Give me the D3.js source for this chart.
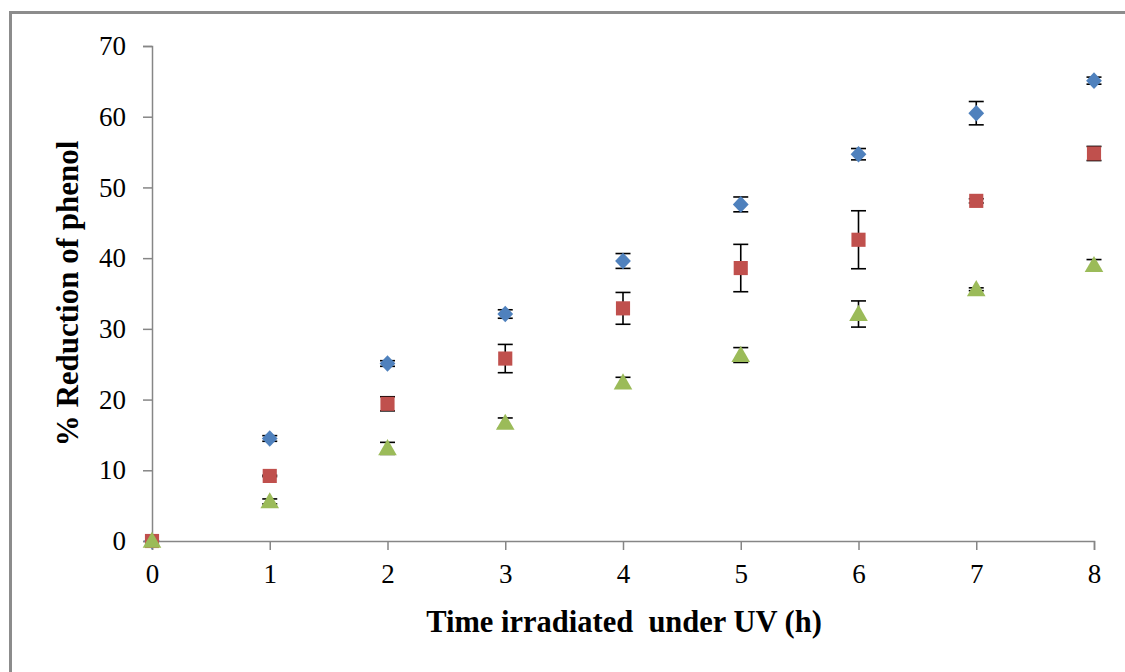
<!DOCTYPE html>
<html>
<head>
<meta charset="utf-8">
<script src="https://cdn.jsdelivr.net/npm/d3@7"></script>
<style>
  html, body { margin: 0; padding: 0; background: #fff; }
  svg { display: block; }
  text { font-family: "Liberation Serif", "Times New Roman", serif; fill: #000; }
</style>
</head>
<body>
<svg id="chart" width="1125" height="672"></svg>
<script>
// Irradiation time (h)
const hours = [0, 1, 2, 3, 4, 5, 6, 7, 8];

// % reduction of phenol, three series, with standard deviations
const seriesA = [0, 14.5, 25.1, 32.1, 39.6, 47.6, 54.7, 60.5, 65.1];
const errorsA = [0, 0.4, 0.4, 0.6, 1.05, 1.05, 0.8, 1.65, 0.5];

const seriesB = [0, 9.2, 19.4, 25.8, 32.9, 38.6, 42.6, 48.1, 54.8];
const errorsB = [0, 0.1, 1.0, 2.0, 2.25, 3.35, 4.1, 0.3, 1.0];

const seriesC = [0, 5.6, 13.1, 16.7, 22.4, 26.3, 32.1, 35.6, 39.0];
const errorsC = [0, 0.35, 0.85, 0.7, 0.75, 1.05, 1.85, 0.2, 0.8];

const xTicks = [0, 1, 2, 3, 4, 5, 6, 7, 8];
const yTicks = [0, 10, 20, 30, 40, 50, 60, 70];

const xTitle = "Time irradiated  under UV (h)";
const yTitle = "% Reduction of phenol";

const svg = d3.select("#chart");

// outer chart frame
svg.append("rect")
  .attr("x", 10.5).attr("y", 12.5)
  .attr("width", 1140).attr("height", 700)
  .attr("fill", "#fff")
  .attr("stroke", "#8c8c8c").attr("stroke-width", 3);

const x = d3.scaleLinear().domain([0, 8]).range([152, 1094]);
const y = d3.scaleLinear().domain([0, 70]).range([541, 46]);

const axisColor = "#868686";

// y axis
const gy = svg.append("g").attr("transform", `translate(${x(0)},0)`)
  .call(d3.axisLeft(y).tickValues(yTicks).tickSize(9).tickPadding(17).tickFormat(d3.format("d")));
gy.select(".domain").attr("stroke", axisColor).attr("stroke-width", 1.5);
gy.selectAll(".tick line").attr("stroke", axisColor).attr("stroke-width", 1.5);
gy.selectAll(".tick text").attr("font-size", 27).attr("font-family", "Liberation Serif").attr("fill", "#000");

// x axis
const gx = svg.append("g").attr("transform", `translate(0,${y(0)})`)
  .call(d3.axisBottom(x).tickValues(xTicks).tickSize(9).tickPadding(14).tickFormat(d3.format("d")));
gx.select(".domain").attr("stroke", axisColor).attr("stroke-width", 1.5);
gx.selectAll(".tick line").attr("stroke", axisColor).attr("stroke-width", 1.5);
gx.selectAll(".tick text").attr("font-size", 27).attr("font-family", "Liberation Serif").attr("fill", "#000");

// axis titles
svg.append("text")
  .attr("x", 624).attr("y", 632)
  .attr("text-anchor", "middle")
  .attr("font-size", 30.5).attr("font-weight", "bold")
  .style("white-space", "pre")
  .text(xTitle);

svg.append("text")
  .attr("transform", `translate(78,${(y(0) + y(70)) / 2}) rotate(-90)`)
  .attr("text-anchor", "middle")
  .attr("font-size", 31).attr("font-weight", "bold")
  .text(yTitle);

// a wide diamond, like a square turned 45 degrees
const wideDiamond = {
  draw(ctx, size) {
    const r = Math.sqrt(size / 2);
    ctx.moveTo(0, -r * 1.05);
    ctx.lineTo(r, 0);
    ctx.lineTo(0, r * 1.05);
    ctx.lineTo(-r, 0);
    ctx.closePath();
  }
};

const groups = [
  { values: seriesA, errors: errorsA, color: "#4F81BD", shape: wideDiamond, size: 125, dy: 0 },
  { values: seriesB, errors: errorsB, color: "#C0504D", shape: d3.symbolSquare, size: 200, dy: 0 },
  { values: seriesC, errors: errorsC, color: "#9BBB59", shape: d3.symbolTriangle, size: 150, dy: 1.5 }
];

const capHalf = 7.5;

groups.forEach(g => {
  const pts = hours.map((h, i) => ({ h, v: g.values[i], e: g.errors[i] }));
  const layer = svg.append("g");

  // error bars, drawn beneath the markers
  const eb = layer.selectAll("g.err").data(pts.filter(d => d.e > 0)).enter().append("g").attr("class", "err")
    .attr("stroke", "#000").attr("stroke-width", 1.6);
  eb.append("line")
    .attr("x1", d => x(d.h)).attr("x2", d => x(d.h))
    .attr("y1", d => y(d.v + d.e)).attr("y2", d => y(d.v - d.e));
  eb.append("line")
    .attr("x1", d => x(d.h) - capHalf).attr("x2", d => x(d.h) + capHalf)
    .attr("y1", d => y(d.v + d.e)).attr("y2", d => y(d.v + d.e));
  eb.append("line")
    .attr("x1", d => x(d.h) - capHalf).attr("x2", d => x(d.h) + capHalf)
    .attr("y1", d => y(d.v - d.e)).attr("y2", d => y(d.v - d.e));

  // markers
  layer.selectAll("path.marker").data(pts).enter().append("path")
    .attr("class", "marker")
    .attr("transform", d => `translate(${x(d.h)},${y(d.v) + g.dy})`)
    .attr("d", d3.symbol().type(g.shape).size(g.size))
    .attr("fill", g.color);
});
</script>
</body>
</html>
